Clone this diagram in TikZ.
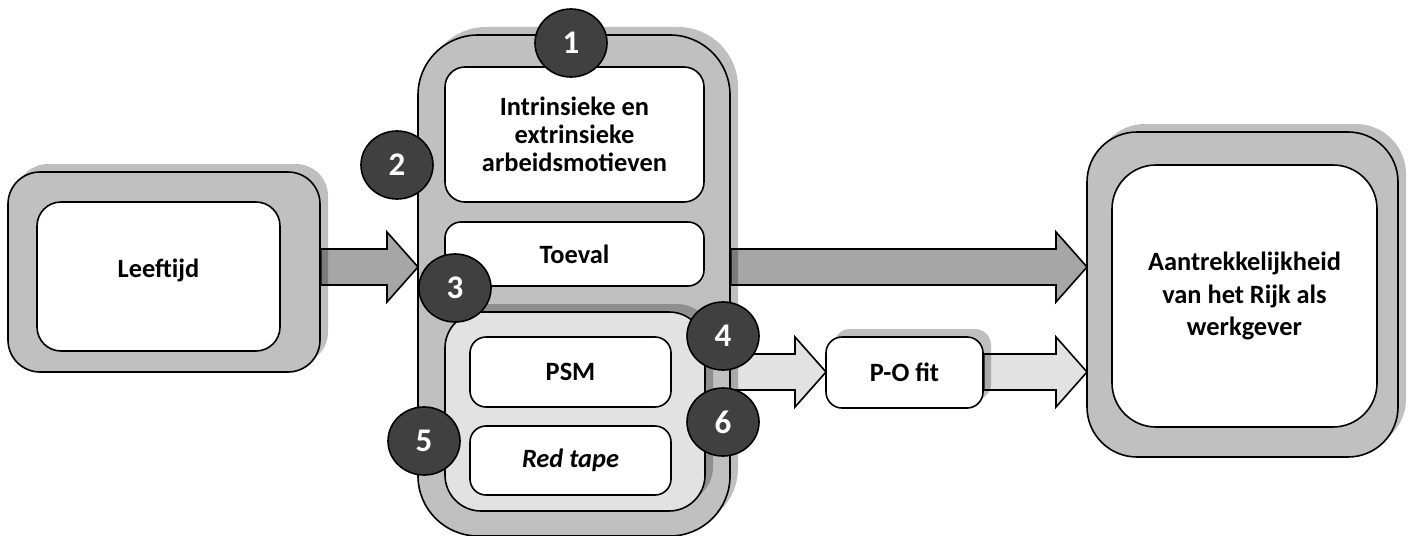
\documentclass[tikz,border=0pt]{standalone}
\usepackage{fontspec}
\setmainfont{Carlito}
\usetikzlibrary{calc,shadows,shapes.geometric}

\definecolor{boxgray}{HTML}{C0C0C0}
\definecolor{lightgray}{HTML}{E2E2E2}
\definecolor{arrowgray}{HTML}{A6A6A6}
\definecolor{dotgray}{HTML}{404040}

\pgfdeclarelayer{background}
\pgfsetlayers{background,main}

\tikzset{
  box/.style={draw, line width=0.8pt, fill=white, inner sep=0pt, align=center,
    font=\bfseries\fontsize{13.2}{14}\selectfont},
  shadowed/.style={drop shadow={shadow xshift=4pt, shadow yshift=4pt, fill=black, opacity=.25}},
  outerbox/.style={box, fill=boxgray, shadowed},
  numdot/.style={draw, line width=0.8pt, fill=dotgray, ellipse, inner sep=0pt,
    minimum width=36pt, minimum height=34pt, text=white,
    font=\bfseries\fontsize{16.5}{16.5}\selectfont},
  arrowline/.style={draw, line width=0.8pt, line join=miter}
}

% block arrow: start node, tip coordinate, colour
\newcommand{\blockarrow}[3]{%
  \draw[arrowline, fill=#3] let \p1=(#1), \p2=(#2) in
    (\x1,\y2+9pt) -- (\x2-15.5pt,\y2+9pt) -- (\x2-15.5pt,\y2+17.5pt) -- (\p2)
    -- (\x2-15.5pt,\y2-17.5pt) -- (\x2-15.5pt,\y2-9pt) -- (\x1,\y2-9pt) -- cycle;}

\begin{document}
\begin{tikzpicture}[x=0.5pt,y=-0.5pt]
\useasboundingbox (0,0) rectangle (1411,535);

% Leeftijd
\node[outerbox, rounded corners=16pt, minimum width=156pt, minimum height=100pt] (lftout) at (164,272) {};
\node[box, rounded corners=12pt, minimum width=121.5pt, minimum height=74.5pt] (lft) at (158.5,276.5) {};
\node[font=\bfseries\fontsize{13.2}{14}\selectfont] (lfttext) at (158.5,270) {Leeftijd};

% middle block
\node[outerbox, rounded corners=30pt, minimum width=156pt, minimum height=250.5pt] (midout) at (574,285.5) {};
\node[box, rounded corners=10pt, minimum width=129.5pt, minimum height=67.5pt] (motief) at (574.5,134.5)
  {Intrinsieke en\\extrinsieke\\arbeidsmotieven};
\node[box, rounded corners=8pt, minimum width=129.5pt, minimum height=32pt] (toeval) at (574.5,254) {Toeval};
\node[box, fill=lightgray, shadowed, rounded corners=18pt, minimum width=130pt, minimum height=99.5pt] (grp) at (575,411.5) {};
\node[box, rounded corners=8pt, minimum width=100.5pt, minimum height=35pt] (psm) at (570.5,372) {PSM};
\node[box, rounded corners=8pt, minimum width=100.5pt, minimum height=34.5pt] (redtape) at (570.5,460.5) {\textit{Red tape}};

% P-O fit
\node[box, shadowed, rounded corners=8pt, minimum width=78.5pt, minimum height=35.5pt] (pofit) at (904.5,372.5) {P-O fit};

% Aantrekkelijkheid
\node[outerbox, rounded corners=25pt, minimum width=155.5pt, minimum height=162.5pt] (aantout) at (1242.5,294.5) {};
\node[box, rounded corners=22pt, minimum width=132.5pt, minimum height=131pt,
  font=\bfseries\fontsize{13.2}{16.25}\selectfont] (aant) at (1244.5,296)
  {Aantrekkelijkheid\\van het Rijk als\\werkgever};

% numbers
\node[numdot] (n1) at (571,43) {1};
\node[numdot] (n2) at (397,165) {2};
\node[numdot] (n3) at (455,288) {3};
\node[numdot] (n4) at (723,336) {4};
\node[numdot] (n5) at (424,441) {5};
\node[numdot] (n6) at (723,422) {6};

% arrow tips
\coordinate (tipL) at (418,267);
\coordinate (tipT) at (1087,267);
\coordinate (tipP) at (826,372);
\coordinate (tipA) at (1087,372);

% The links:
\begin{pgfonlayer}{background}
\blockarrow{lftout.east}{tipL}{arrowgray}
\blockarrow{midout.east}{tipT}{arrowgray}
\blockarrow{grp.east}{tipP}{lightgray}
\blockarrow{pofit.east}{tipA}{lightgray}
\end{pgfonlayer}
\end{tikzpicture}
\end{document}
